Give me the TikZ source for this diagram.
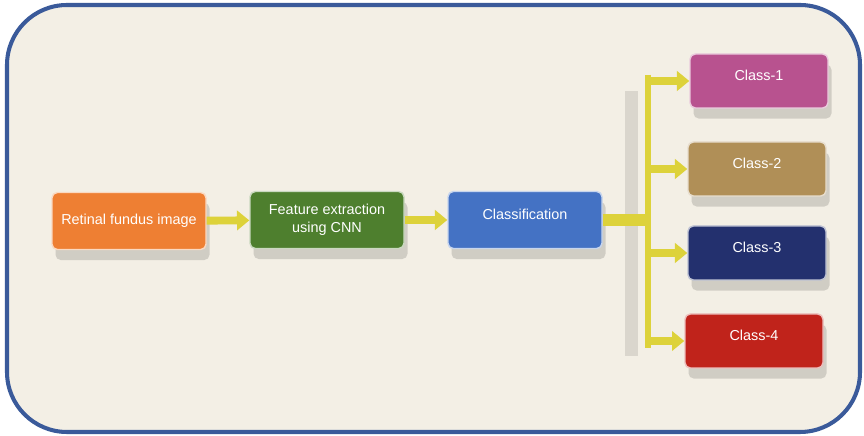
\documentclass[tikz,border=0pt]{standalone}
\usepackage{fontspec}
\setmainfont{Liberation Sans}
\usepackage{tikz}
\usetikzlibrary{positioning,calc,shadows,arrows.meta}

\definecolor{paper}{HTML}{F3EFE5}
\definecolor{frame}{HTML}{3A5A9A}
\definecolor{arrowyellow}{HTML}{DDD23A}
\definecolor{boxorange}{HTML}{EE7F33}
\definecolor{boxgreen}{HTML}{4E7F2E}
\definecolor{boxblue}{HTML}{4472C4}
\definecolor{boxpink}{HTML}{B8528F}
\definecolor{boxtan}{HTML}{B08F57}
\definecolor{boxnavy}{HTML}{23306E}
\definecolor{boxred}{HTML}{C0231B}

\tikzset{
  stage/.style={rectangle, rounded corners=3pt, minimum width=3.08cm, minimum height=1.14cm,
    align=center, text=white, font=\fontsize{8.2}{10}\selectfont, draw=white!70!#1, line width=0.8pt,
    fill=#1, drop shadow={shadow xshift=2pt, shadow yshift=-6pt, fill=black, opacity=0.14}},
  classbox/.style={stage=#1, minimum width=2.76cm, minimum height=1.08cm},
  fatarrow/.style={arrowyellow, line width=4.5pt, -{Triangle[width=11pt,length=7pt]}},
  fatbar/.style={arrowyellow, line width=6.5pt},
  mainbar/.style={arrowyellow, line width=3.5pt}
}

\begin{document}
\begin{tikzpicture}
\useasboundingbox (0,0) rectangle (17.28,8.72);
\draw[frame, line width=2.3pt, fill=paper, rounded corners=1.2cm] (0.14,0.08) rectangle (17.2,8.62);

% pipeline
\node[stage=boxorange] (img) at (2.58,4.3) {Retinal fundus image};
\node[stage=boxgreen] (feat) at (6.54,4.32) {Feature extraction\\using CNN};
\node[stage=boxblue] (cls) at (10.5,4.32) {Classification\\[-4pt]};

% classes
\node[classbox=boxpink] (c1) at (15.18,7.1) {Class-1\\[-4pt]};
\node[classbox=boxtan] (c2) at (15.14,5.34) {Class-2\\[-4pt]};
\node[classbox=boxnavy] (c3) at (15.14,3.66) {Class-3\\[-4pt]};
\node[classbox=boxred] (c4) at (15.08,1.9) {Class-4\\[-4pt]};

\coordinate (bartop) at (12.96,7.22);
\coordinate (barbot) at (12.96,1.76);

% shadow of the bar
\fill[black, opacity=0.1] (12.5,1.6) rectangle (12.75,6.9);

\draw[fatarrow] (img) -- (feat);
\draw[fatarrow] (feat) -- (cls);
\draw[fatbar] (cls.east) -- (cls.east -| bartop);
\draw[mainbar] (bartop) -- (barbot);
\foreach \c in {c1,c2,c3,c4}
  \draw[fatarrow] (\c.west -| bartop) -- (\c.west);
\end{tikzpicture}
\end{document}
